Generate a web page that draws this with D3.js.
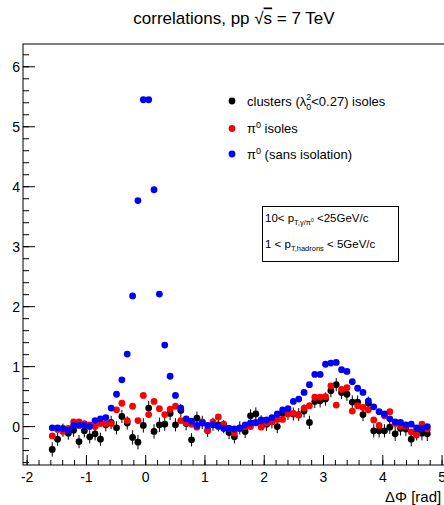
<!DOCTYPE html>
<html><head><meta charset="utf-8">
<script src="https://cdn.jsdelivr.net/npm/d3@7"></script>
<style>
html,body{margin:0;padding:0;background:#fff;}
svg{display:block;font-family:"Liberation Sans",Arial,sans-serif;}
</style></head>
<body><svg id="c" width="444" height="505"></svg>
<script>
// ---- data ----
const binFirst = -1.577;   // centre of first ΔΦ bin (rad)
const binWidth = 0.0904;   // ΔΦ bin width (rad)
const clustersIso = [-0.38,-0.21,-0.06,-0.11,-0.06,-0.25,-0.07,-0.17,-0.12,-0.21,0.03,0.07,-0.02,0.17,0.06,-0.18,-0.26,0.02,0.31,-0.08,0.03,0.04,0.22,0.03,0.27,0.05,-0.22,0.14,0.07,-0.06,0.04,0.03,0.00,-0.10,-0.17,-0.02,-0.08,0.18,0.21,0.08,0.04,0.08,0.00,0.22,0.22,0.21,0.20,0.26,0.07,0.42,0.43,0.46,0.60,0.70,0.57,0.54,0.41,0.41,0.20,0.39,-0.07,-0.07,-0.07,-0.01,-0.12,-0.03,-0.04,-0.21,-0.11,-0.11,-0.12];
const clustersErr = [0.12,0.11,0.11,0.11,0.11,0.11,0.11,0.11,0.11,0.11,0.11,0.11,0.11,0.11,0.11,0.12,0.12,0.12,0.12,0.12,0.12,0.11,0.11,0.11,0.11,0.11,0.11,0.11,0.11,0.11,0.11,0.11,0.11,0.11,0.11,0.11,0.11,0.11,0.11,0.11,0.11,0.11,0.11,0.11,0.11,0.11,0.11,0.11,0.11,0.11,0.11,0.11,0.11,0.11,0.11,0.11,0.11,0.11,0.11,0.11,0.11,0.11,0.11,0.11,0.12,0.12,0.12,0.12,0.12,0.12,0.12];
const pi0Iso = [-0.155,-0.05,-0.08,-0.03,0.08,0.08,0.05,0.03,0.00,0.05,0.05,0.05,0.28,0.39,0.10,0.34,0.10,0.52,0.20,0.42,0.30,0.20,0.29,0.34,0.10,0.06,0.04,-0.01,0.08,-0.07,0.08,0.16,0.04,-0.03,-0.11,-0.03,0.00,0.00,0.06,-0.01,0.06,0.08,0.12,0.12,0.21,0.22,0.19,0.31,0.35,0.49,0.49,0.50,0.68,0.36,0.62,0.65,0.26,0.35,0.32,0.28,0.11,0.02,0.18,0.25,0.05,0.01,0.01,-0.09,-0.14,0.04,-0.04];
const pi0Err = 0.04;
const pi0All = [-0.02,-0.02,-0.03,-0.06,0.02,0.02,0.02,0.00,0.10,0.13,0.15,0.31,0.54,0.78,1.21,2.18,3.77,5.45,5.45,3.95,2.21,1.36,0.84,0.52,0.31,0.13,0.09,0.02,0.06,0.02,0.03,0.00,-0.03,-0.03,-0.04,-0.03,0.03,0.06,0.07,0.11,0.11,0.15,0.21,0.28,0.30,0.42,0.46,0.57,0.70,0.87,0.87,1.04,1.06,1.07,0.95,0.92,0.75,0.64,0.57,0.43,0.33,0.25,0.21,0.13,0.08,0.07,0.03,0.04,-0.02,-0.03,0.00];
const pi0AllErr = 0.03;
const yTicks = [0,1,2,3,4,5,6];
const xTicks = [-2,-1,0,1,2,3,4,5];
const xDomain = [-2.07, 5.1];
const yDomain = [-0.64, 6.38];

// ---- drawing ----
const svg = d3.select("#c");
const L = 23, R = 448, T = 44, B = 465;
const x = d3.scaleLinear().domain(xDomain).range([L, R]);
const y = d3.scaleLinear().domain(yDomain).range([B, T]);

svg.append("rect").attr("width",444).attr("height",505).attr("fill","#fff");

// title
const title = svg.append("text").attr("x",234).attr("y",23.5).attr("text-anchor","middle")
  .attr("font-size",17).attr("fill","#000");
title.append("tspan").text("correlations, pp  √");
title.append("tspan").text("s").style("text-decoration","overline");
title.append("tspan").text(" = 7 TeV");

// frame
svg.append("rect").attr("x",L).attr("y",T).attr("width",R-L).attr("height",B-T)
  .attr("fill","none").attr("stroke","#000").attr("stroke-width",1);

// y axis (ROOT style, inward ticks)
const yMinor = d3.range(-0.6, 6.39, 0.2).map(v => +v.toFixed(2)).filter(v => v>=yDomain[0] && v<=yDomain[1]);
const yAx = svg.append("g");
yAx.selectAll("line.minor").data(yMinor).join("line")
  .attr("x1",L).attr("x2",L+6).attr("y1",d=>y(d)).attr("y2",d=>y(d))
  .attr("stroke","#000");
yAx.selectAll("line.major").data(yTicks).join("line")
  .attr("x1",L).attr("x2",L+12).attr("y1",d=>y(d)).attr("y2",d=>y(d))
  .attr("stroke","#000");
yAx.selectAll("text").data(yTicks).join("text")
  .attr("x",20).attr("y",d=>y(d)+5).attr("text-anchor","end")
  .attr("font-size",14).text(d=>d);

// x axis
const xMinor = d3.range(-2, 5.11, 0.2).map(v => +v.toFixed(2)).filter(v => v>=xDomain[0] && v<=xDomain[1]);
const xAx = svg.append("g");
xAx.selectAll("line.minor").data(xMinor).join("line")
  .attr("x1",d=>x(d)).attr("x2",d=>x(d)).attr("y1",B).attr("y2",B-5)
  .attr("stroke","#000");
xAx.selectAll("line.major").data(xTicks).join("line")
  .attr("x1",d=>x(d)).attr("x2",d=>x(d)).attr("y1",B).attr("y2",B-10)
  .attr("stroke","#000");
xAx.selectAll("text").data(xTicks).join("text")
  .attr("x",d=>x(d)).attr("y",482).attr("text-anchor","middle")
  .attr("font-size",14).text(d=>d);
svg.append("text").attr("x",385).attr("y",502).attr("font-size",15).text("ΔΦ [rad]");

// series
function drawSeries(vals, errs, color, r) {
  const pts = vals.map((v,i)=>({dphi: binFirst + i*binWidth, v, e: Array.isArray(errs)?errs[i]:errs}));
  const g = svg.append("g");
  g.selectAll("line").data(pts).join("line")
    .attr("x1",d=>x(d.dphi)).attr("x2",d=>x(d.dphi))
    .attr("y1",d=>y(d.v-d.e)).attr("y2",d=>y(d.v+d.e))
    .attr("stroke", color).attr("stroke-width",1);
  g.selectAll("circle").data(pts).join("circle")
    .attr("cx",d=>x(d.dphi)).attr("cy",d=>y(d.v)).attr("r",r).attr("fill",color);
}
drawSeries(clustersIso, clustersErr, "#000", 3.4);
drawSeries(pi0Iso, pi0Err, "#ff0000", 3.4);
drawSeries(pi0All, pi0AllErr, "#0000ff", 3.4);

// legend
const legend = [
  {color:"#000", y:101},
  {color:"#ff0000", y:128.5},
  {color:"#0000ff", y:154}
];
svg.selectAll("circle.leg").data(legend).join("circle")
  .attr("cx",232).attr("cy",d=>d.y).attr("r",3.4).attr("fill",d=>d.color);
const fs = 13;
const t1 = svg.append("text").attr("x",247).attr("y",105.5).attr("font-size",fs);
t1.append("tspan").text("clusters (λ");
t1.append("tspan").attr("font-size",9).attr("dy",-6).text("2");
t1.append("tspan").attr("font-size",9).attr("dx",-5).attr("dy",10).text("0");
t1.append("tspan").attr("dy",-4).text("<0.27) isoles");
const t2 = svg.append("text").attr("x",247).attr("y",133).attr("font-size",fs);
t2.append("tspan").text("π");
t2.append("tspan").attr("font-size",9).attr("dy",-5).text("0");
t2.append("tspan").attr("dy",5).text(" isoles");
const t3 = svg.append("text").attr("x",247).attr("y",158.5).attr("font-size",fs);
t3.append("tspan").text("π");
t3.append("tspan").attr("font-size",9).attr("dy",-5).text("0");
t3.append("tspan").attr("dy",5).text(" (sans isolation)");

// pT box
svg.append("rect").attr("x",262.5).attr("y",206.5).attr("width",136).attr("height",55)
  .attr("fill","#fff").attr("stroke","#000").attr("stroke-width",1);
const b1 = svg.append("text").attr("x",265).attr("y",221.5).attr("font-size",11.5);
b1.append("tspan").text("10< p");
b1.append("tspan").attr("font-size",7.5).attr("dy",3).text("T,γ/π");
b1.append("tspan").attr("font-size",5).attr("dy",-3).text("0");
b1.append("tspan").attr("dy",0).text(" <25GeV/c");
const b2 = svg.append("text").attr("x",265).attr("y",248).attr("font-size",11.5);
b2.append("tspan").text("1 < p");
b2.append("tspan").attr("font-size",7.5).attr("dy",3).text("T,hadrons");
b2.append("tspan").attr("dy",-3).text(" < 5GeV/c");
</script>
</body></html>
